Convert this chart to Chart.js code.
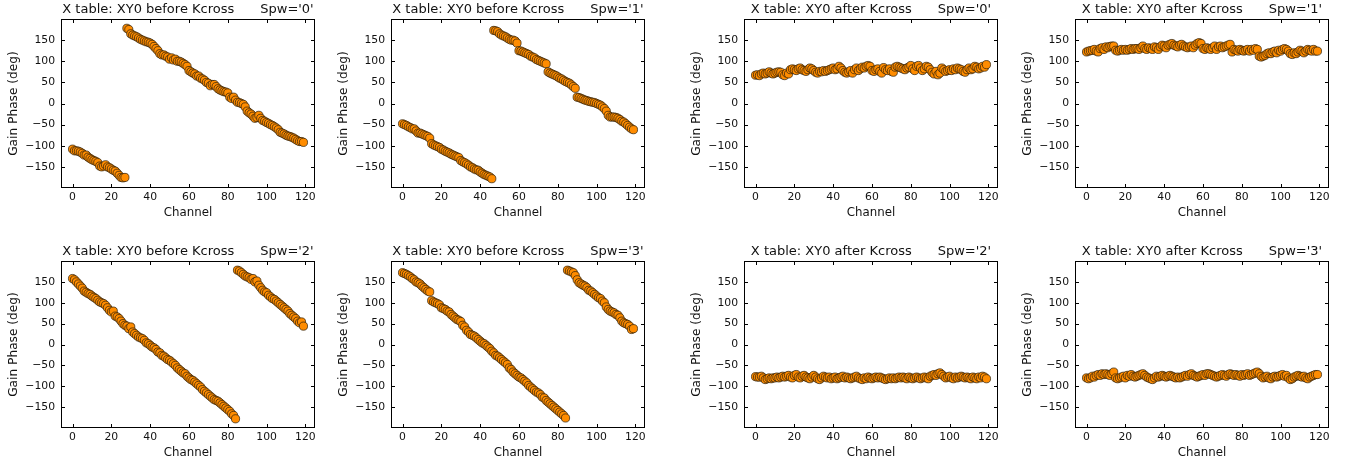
<!DOCTYPE html>
<html>
<head>
<meta charset="utf-8">
<title>X table: XY0 before / after Kcross</title>
<script src="https://cdn.jsdelivr.net/npm/chart.js@4.4.1/dist/chart.umd.min.js"></script>
<style>
  html, body { margin: 0; padding: 0; background: #fff; }
  #page { position: relative; width: 1347px; height: 465px; overflow: hidden; background: #fff; }
  #page canvas { position: absolute; }
</style>
</head>
<body>
<div id="page"></div>
<script>
// ---- data -------------------------------------------------------------

const channels = [
    0, 1, 2, 3, 4, 5, 6, 7, 8, 9,
    10, 11, 12, 13, 14, 15, 16, 17, 18, 19,
    20, 21, 22, 23, 24, 25, 26, 27, 28, 29,
    30, 31, 32, 33, 34, 35, 36, 37, 38, 39,
    40, 41, 42, 43, 44, 45, 46, 47, 48, 49,
    50, 51, 52, 53, 54, 55, 56, 57, 58, 59,
    60, 61, 62, 63, 64, 65, 66, 67, 68, 69,
    70, 71, 72, 73, 74, 75, 76, 77, 78, 79,
    80, 81, 82, 83, 84, 85, 86, 87, 88, 89,
    90, 91, 92, 93, 94, 95, 96, 97, 98, 99,
    100, 101, 102, 103, 104, 105, 106, 107, 108, 109,
    110, 111, 112, 113, 114, 115, 116, 117, 118, 119
];

const xTickValues = [0, 20, 40, 60, 80, 100, 120];
const yTickValues = [-150, -100, -50, 0, 50, 100, 150];

// gain phase (deg) per channel, before the cross-hand delay is removed
const beforeSpw0 = [
    -108, -112, -112, -113, -115, -118, -122, -122, -127, -130,
    -133, -135, -137, -140, -148, -150, -148, -145, -150, -152,
    -155, -158, -160, -165, -170, -175, -176, -175, 178, 175,
    165, 162, 160, 158, 155, 152, 150, 148, 146, 145,
    143, 140, 135, 130, 125, 118, 115, 115, 112, 110,
    105, 108, 103, 105, 100, 100, 98, 95, 92, 88,
    78, 75, 72, 70, 65, 65, 60, 58, 55, 50,
    48, 42, 45, 45, 40, 35, 32, 30, 28, 27,
    25, 15, 12, 15, 8, 3, 2, 0, -2, -8,
    -18, -22, -25, -30, -35, -33, -28, -35, -40, -42,
    -45, -47, -50, -52, -55, -58, -62, -68, -70, -72,
    -75, -77, -78, -80, -82, -85, -88, -90, -90, -92
];

const beforeSpw1 = [
    -48, -50, -52, -55, -57, -60, -60, -65, -70, -70,
    -72, -74, -76, -78, -82, -95, -98, -100, -102, -104,
    -108, -110, -113, -115, -117, -120, -122, -124, -126, -128,
    -135, -138, -140, -143, -146, -150, -152, -155, -157, -158,
    -162, -165, -168, -170, -172, -174, -178, 173, 172, 170,
    165, 162, 160, 158, 155, 152, 150, 150, 148, 143,
    125, 124, 122, 120, 118, 116, 112, 110, 108, 104,
    102, 100, 98, 96, 94, 75, 72, 70, 68, 66,
    63, 60, 58, 55, 52, 50, 48, 44, 40, 36,
    15, 14, 12, 10, 8, 7, 5, 4, 3, 2,
    0, -2, -4, -8, -12, -18, -28, -32, -32, -32,
    -33, -35, -38, -42, -44, -48, -52, -56, -60, -62
];

const beforeSpw2 = [
    158, 155, 150, 145, 140, 135, 128, 125, 122, 120,
    116, 113, 110, 106, 102, 100, 98, 94, 88, 82,
    78, 80, 68, 66, 62, 56, 50, 46, 44, 38,
    42, 30, 26, 22, 18, 16, 14, 10, 4, 2,
    -2, -6, -8, -12, -18, -20, -26, -28, -32, -36,
    -38, -42, -46, -50, -56, -60, -64, -68, -70, -76,
    -80, -84, -86, -90, -94, -98, -102, -108, -112, -116,
    -120, -124, -128, -132, -134, -136, -140, -144, -148, -152,
    -156, -160, -166, -170, -178, 178, 176, 172, 168, 164,
    162, 160, 156, 158, 150, 152, 142, 136, 130, 126,
    124, 118, 114, 110, 108, 104, 100, 96, 92, 88,
    84, 80, 74, 70, 66, 62, 56, 52, 54, 44
];

const beforeSpw3 = [
    172, 170, 168, 165, 162, 158, 155, 150, 148, 145,
    140, 136, 132, 128, 126, 105, 102, 100, 98, 95,
    88, 86, 84, 80, 78, 72, 68, 64, 60, 58,
    55, 46, 42, 34, 30, 24, 22, 20, 16, 12,
    8, 4, 2, -2, -6, -10, -16, -20, -26, -28,
    -32, -36, -40, -44, -48, -56, -60, -66, -70, -74,
    -78, -80, -84, -88, -92, -98, -102, -106, -110, -114,
    -116, -120, -126, -128, -134, -138, -142, -146, -150, -154,
    -158, -162, -166, -170, -176, 178, 176, 174, 172, 165,
    155, 148, 145, 142, 140, 136, 130, 128, 124, 120,
    116, 112, 110, 104, 100, 90, 84, 80, 78, 76,
    72, 70, 64, 56, 52, 50, 48, 44, 36, 38
];

// gain phase (deg) per channel, after Kcross is applied
const afterSpw0 = [
    67, 68, 66, 70, 72, 70, 72, 75, 72, 70,
    72, 74, 75, 74, 68, 66, 72, 70, 80, 82,
    80, 78, 82, 84, 80, 78, 76, 80, 84, 82,
    78, 74, 72, 76, 75, 78, 76, 78, 80, 82,
    84, 80, 82, 88, 84, 78, 74, 72, 75, 78,
    72, 80, 84, 78, 82, 86, 84, 88, 90, 88,
    78, 76, 80, 82, 76, 72, 85, 80, 78, 82,
    76, 74, 86, 88, 86, 84, 82, 80, 84, 86,
    90, 82, 78, 88, 90, 84, 78, 82, 88, 86,
    80, 74, 70, 76, 68, 72, 84, 80, 76, 78,
    80, 78, 82, 80, 84, 82, 80, 76, 74, 80,
    84, 80, 82, 88, 86, 82, 84, 88, 86, 92
];

const afterSpw1 = [
    122, 124, 125, 126, 128, 124, 122, 130, 132, 128,
    134, 132, 135, 136, 136, 126, 124, 126, 128, 126,
    128, 126, 128, 130, 128, 130, 130, 128, 132, 136,
    130, 128, 132, 130, 128, 134, 132, 128, 134, 138,
    136, 132, 138, 140, 142, 138, 136, 134, 138, 140,
    136, 134, 132, 134, 136, 132, 138, 142, 144, 142,
    130, 128, 132, 130, 128, 132, 136, 128, 134, 136,
    132, 134, 136, 138, 140, 122, 128, 126, 124, 128,
    126, 124, 126, 128, 124, 128, 126, 130, 128, 112,
    110, 112, 114, 118, 120, 118, 122, 124, 120, 126,
    124, 128, 130, 128, 124, 118, 116, 120, 118, 122,
    126, 124, 120, 124, 128, 126, 124, 128, 124, 124
];

const afterSpw2 = [
    -77, -78, -78, -76, -80, -84, -82, -80, -82, -80,
    -80, -78, -80, -78, -76, -78, -76, -74, -78, -80,
    -74, -72, -78, -80, -76, -74, -78, -80, -82, -78,
    -74, -78, -82, -84, -80, -76, -78, -80, -78, -82,
    -80, -78, -82, -80, -78, -76, -80, -78, -80, -82,
    -80, -78, -76, -80, -82, -84, -80, -82, -78, -80,
    -82, -80, -78, -80, -78, -80, -82, -84, -82, -80,
    -82, -80, -82, -80, -78, -80, -78, -80, -82, -78,
    -80, -82, -80, -78, -80, -82, -80, -78, -80, -82,
    -76, -74, -72, -74, -70, -68, -72, -76, -80, -78,
    -76, -80, -82, -78, -80, -78, -76, -78, -80, -78,
    -80, -82, -78, -80, -82, -78, -80, -76, -78, -82
];

const afterSpw3 = [
    -80, -82, -80, -76, -78, -74, -72, -74, -70, -72,
    -70, -72, -74, -70, -66, -80, -82, -80, -78, -76,
    -80, -74, -76, -72, -76, -78, -76, -74, -72, -70,
    -74, -78, -80, -82, -84, -80, -76, -78, -76, -74,
    -76, -78, -76, -74, -76, -78, -80, -78, -80, -78,
    -76, -74, -76, -72, -70, -74, -76, -78, -76, -74,
    -72, -74, -70, -70, -72, -74, -76, -78, -76, -74,
    -72, -74, -76, -72, -70, -72, -74, -72, -74, -76,
    -72, -74, -72, -70, -74, -72, -70, -68, -66, -70,
    -76, -80, -78, -76, -80, -82, -78, -76, -78, -76,
    -74, -72, -76, -74, -80, -84, -82, -78, -76, -74,
    -76, -78, -76, -80, -82, -78, -76, -74, -72, -72
];

const beforeTitle = 'X table: XY0 before Kcross';
const afterTitle = 'X table: XY0 after Kcross';
const spwLabels = ["Spw='0'", "Spw='1'", "Spw='2'", "Spw='3'"];

// ---- layout -----------------------------------------------------------

// plot-area corner of every panel on the page, plus its height
const panels = [
    { title: beforeTitle, spw: spwLabels[0], values: beforeSpw0, left: 61,   top: 19,  h: 169 },
    { title: beforeTitle, spw: spwLabels[1], values: beforeSpw1, left: 391,  top: 19,  h: 169 },
    { title: afterTitle,  spw: spwLabels[0], values: afterSpw0,  left: 744,  top: 19,  h: 169 },
    { title: afterTitle,  spw: spwLabels[1], values: afterSpw1,  left: 1075, top: 19,  h: 169 },
    { title: beforeTitle, spw: spwLabels[2], values: beforeSpw2, left: 61,   top: 261, h: 167 },
    { title: beforeTitle, spw: spwLabels[3], values: beforeSpw3, left: 391,  top: 261, h: 167 },
    { title: afterTitle,  spw: spwLabels[2], values: afterSpw2,  left: 744,  top: 261, h: 167 },
    { title: afterTitle,  spw: spwLabels[3], values: afterSpw3,  left: 1075, top: 261, h: 167 }
];

const PLOT_W = 254;
const AXIS_W = 61;     // room for y tick labels + y title
const AXIS_H = 36;     // room for x tick labels + x title
const PAD_TOP = 19;    // room for the panel title
const PAD_RIGHT = 16;

const FONT = '"DejaVu Sans", "Bitstream Vera Sans", sans-serif';
const INK = '#111';

function fmtTick(v) {
    return v < 0 ? '\u2212' + Math.abs(v) : String(v);
}

// matplotlib-style box: full frame, ticks pointing inward on all sides, split title
const framePlugin = {
    id: 'frame',
    afterDraw(chart, args, opts) {
        const { ctx, chartArea: a, scales: { x, y } } = chart;
        ctx.save();
        ctx.strokeStyle = '#000';
        ctx.lineWidth = 1;

        ctx.beginPath();
        x.ticks.forEach(t => {
            const px = Math.round(x.getPixelForValue(t.value)) + 0.5;
            ctx.moveTo(px, a.bottom); ctx.lineTo(px, a.bottom - 4);
            ctx.moveTo(px, a.top); ctx.lineTo(px, a.top + 4);
        });
        y.ticks.forEach(t => {
            const py = Math.round(y.getPixelForValue(t.value)) + 0.5;
            ctx.moveTo(a.left, py); ctx.lineTo(a.left + 4, py);
            ctx.moveTo(a.right, py); ctx.lineTo(a.right - 4, py);
        });
        ctx.stroke();
        ctx.strokeRect(a.left + 0.5, a.top + 0.5, a.width - 1, a.height - 1);

        // title: description on the left, spw on the right, centred as one line
        ctx.font = '13px ' + FONT;
        ctx.fillStyle = INK;
        ctx.textBaseline = 'alphabetic';
        ctx.textAlign = 'left';
        const gap = 26;
        const w1 = ctx.measureText(opts.text).width;
        const w2 = ctx.measureText(opts.spw).width;
        const x0 = (a.left + a.right) / 2 - (w1 + gap + w2) / 2;
        ctx.fillText(opts.text, x0, a.top - 6);
        ctx.fillText(opts.spw, x0 + w1 + gap, a.top - 6);
        ctx.restore();
    }
};

const page = document.getElementById('page');

panels.forEach(p => {
    const canvas = document.createElement('canvas');
    canvas.width = AXIS_W + PLOT_W + PAD_RIGHT;
    canvas.height = PAD_TOP + p.h + AXIS_H;
    canvas.style.left = (p.left - AXIS_W) + 'px';
    canvas.style.top = (p.top - PAD_TOP) + 'px';
    page.appendChild(canvas);

    new Chart(canvas, {
        type: 'scatter',
        data: {
            datasets: [{
                data: channels.map((c, i) => ({ x: c, y: p.values[i] })),
                pointRadius: 4.1,
                pointHoverRadius: 4.1,
                pointBackgroundColor: '#ff8c00',
                pointBorderColor: '#2a1c08',
                pointBorderWidth: 0.7
            }]
        },
        options: {
            responsive: false,
            animation: false,
            events: [],
            layout: { padding: { left: 0, top: PAD_TOP, right: PAD_RIGHT, bottom: 0 } },
            plugins: {
                legend: { display: false },
                tooltip: { enabled: false },
                frame: { text: p.title, spw: p.spw }
            },
            scales: {
                x: {
                    type: 'linear',
                    min: -5.95,
                    max: 124.95,
                    grid: { display: false, drawTicks: false },
                    border: { display: false },
                    afterBuildTicks: s => { s.ticks = xTickValues.map(v => ({ value: v })); },
                    afterFit: s => { s.height = AXIS_H; },
                    ticks: {
                        autoSkip: false,
                        maxRotation: 0,
                        padding: 3,
                        color: INK,
                        font: { family: FONT, size: 10.8 },
                        callback: fmtTick
                    },
                    title: {
                        display: true,
                        text: 'Channel',
                        color: INK,
                        font: { family: FONT, size: 11.8 },
                        padding: { top: 0, bottom: 4 }
                    }
                },
                y: {
                    type: 'linear',
                    min: -200,
                    max: 200,
                    grid: { display: false, drawTicks: false },
                    border: { display: false },
                    afterBuildTicks: s => { s.ticks = yTickValues.map(v => ({ value: v })); },
                    afterFit: s => { s.width = AXIS_W; },
                    ticks: {
                        autoSkip: false,
                        padding: 6,
                        color: INK,
                        font: { family: FONT, size: 10.8 },
                        callback: fmtTick
                    },
                    title: {
                        display: true,
                        text: 'Gain Phase (deg)',
                        color: INK,
                        font: { family: FONT, size: 12.2 },
                        padding: { top: 7, bottom: 0 }
                    }
                }
            }
        },
        plugins: [framePlugin]
    });
});
</script>
</body>
</html>
